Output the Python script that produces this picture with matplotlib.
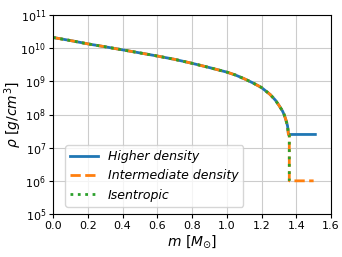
import matplotlib
matplotlib.use("Agg")
import matplotlib.pyplot as plt
import numpy as np

# shared inner profile (mass in solar masses, density in g/cm^3)
mass_core = [0.0, 0.1, 0.2, 0.3, 0.4, 0.5, 0.6, 0.7, 0.8, 0.9, 1.0, 1.05, 1.1,
             1.15, 1.2, 1.25, 1.28, 1.3, 1.32, 1.33, 1.34, 1.35, 1.355]
rho_core = [2.1e10, 1.7e10, 1.35e10, 1.1e10, 8.9e9, 7.2e9, 5.8e9, 4.6e9, 3.5e9,
            2.6e9, 1.9e9, 1.55e9, 1.2e9, 9.0e8, 6.5e8, 4.0e8, 2.7e8, 1.9e8,
            1.3e8, 1.0e8, 7.0e7, 4.5e7, 2.5e7]

# outer parts of each model
mass_high = [1.355, 1.51]
rho_high = [2.5e7, 2.5e7]
mass_mid = [1.36, 1.36, 1.50]
rho_mid = [2.5e7, 1.0e6, 1.0e6]
mass_isen = [1.36, 1.36]
rho_isen = [2.5e7, 1.0e6]

labels = ["Higher density", "Intermediate density", "Isentropic"]

fig = plt.figure(figsize=(3.42, 2.57), dpi=100)
ax = fig.add_axes([53 / 342, 1 - 214 / 257, 278 / 342, 199 / 257])

ax.plot(mass_core + mass_high, rho_core + rho_high, color="#1f77b4", lw=2.0,
        label=labels[0])
ax.plot(mass_core + mass_mid, rho_core + rho_mid, color="#ff7f0e", lw=2.0,
        ls="--", label=labels[1])
ax.plot(mass_core + mass_isen, rho_core + rho_isen, color="#2ca02c", lw=2.0,
        ls=":", label=labels[2])

ax.set_yscale("log")
ax.set_xlim(0, 1.6)
ax.set_ylim(1e5, 1e11)
ax.set_yticks([1e5, 1e6, 1e7, 1e8, 1e9, 1e10, 1e11])
ax.yaxis.set_minor_locator(matplotlib.ticker.NullLocator())
ax.set_xticks(np.arange(0, 1.61, 0.2))
ax.tick_params(labelsize=8, pad=2, length=3)
ax.grid(True, color="#cccccc", lw=0.8)

ax.set_xlabel(r"$m\ [M_{\odot}]$", fontsize=10)
ax.set_ylabel(r"$\rho\ [g/cm^3]$", fontsize=10)
ax.xaxis.set_label_coords(0.5, -0.095)
ax.yaxis.set_label_coords(-0.105, 0.5)

ax.legend(loc="lower left", bbox_to_anchor=(0.035, 0.025),
          prop={"style": "italic", "size": 9}, handlelength=2.2,
          borderaxespad=0.2)

fig.savefig("out.png", dpi=100)
